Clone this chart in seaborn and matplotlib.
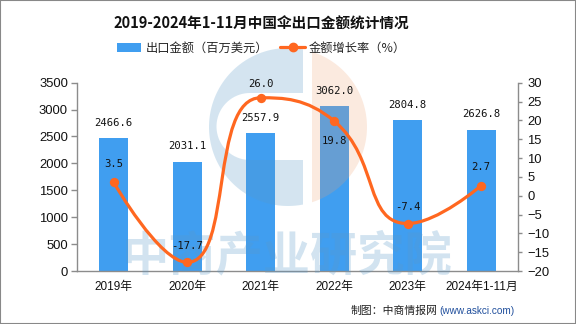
import numpy as np
import pandas as pd
import matplotlib
matplotlib.use("Agg")
import matplotlib.pyplot as plt
import seaborn as sns
from matplotlib.path import Path
from matplotlib.patches import PathPatch, Rectangle, Patch
from matplotlib.lines import Line2D

# ---------------- data ----------------
categories = ["2019年", "2020年", "2021年", "2022年", "2023年", "2024年1-11月"]
export_value = [2466.6, 2031.1, 2557.9, 3062.0, 2804.8, 2626.8]
growth_rate = [3.5, -17.7, 26.0, 19.8, -7.4, 2.7]
left_ticks = [0, 500, 1000, 1500, 2000, 2500, 3000, 3500]
right_ticks = [-20, -15, -10, -5, 0, 5, 10, 15, 20, 25, 30]
title = "2019-2024年1-11月中国伞出口金额统计情况"
legend_labels = ["出口金额（百万美元）", "金额增长率（%）"]
source_main = "制图：中商情报网"
source_url = "(www.askci.com)"
watermark = "中商产业研究院"

# ---------------- style ----------------
BLUE = "#409ef0"
ORANGE = "#ff6720"
GRAY = "#8c8c8c"
rate_label_offsets = [13, 12, 10, -14, 12, 13]  # points, vertical offset of rate labels

sns.set_theme(style="white")
plt.rcParams["font.family"] = ["Liberation Sans", "Noto Sans CJK SC", "DejaVu Sans"]
plt.rcParams["axes.unicode_minus"] = True

W, H = 576, 324
fig = plt.figure(figsize=(W / 100, H / 100), dpi=100)
fig.patch.set_facecolor("white")

x0, x1, ytop, ybot = 77, 518, 82.7, 271
ax = fig.add_axes([x0 / W, 1 - ybot / H, (x1 - x0) / W, (ybot - ytop) / H])

df = pd.DataFrame({"cat": categories, "val": export_value})
sns.barplot(data=df, x="cat", y="val", ax=ax, color=BLUE, saturation=1,
            width=0.4, linewidth=0, zorder=2)
ax.set_xlim(-0.5, len(categories) - 0.5)
ax.set_ylim(0, 3500)
ax.set_yticks(left_ticks)
ax.set_xlabel("")
ax.set_ylabel("")
ax.set_xticks(range(len(categories)))
ax.set_xticklabels(categories, fontsize=8.5, color="#111111")
ax.set_xticks(np.arange(-0.5, len(categories)), minor=True)
ax.tick_params(axis="x", which="major", length=0, pad=7)
ax.tick_params(axis="x", which="minor", length=4, width=1, color=GRAY, direction="out")
ax.tick_params(axis="y", length=4.3, width=1, color=GRAY, direction="out",
               pad=2.2, labelsize=9.4, labelcolor="#111111", left=True)
for s in ["top", "right"]:
    ax.spines[s].set_visible(False)
for s in ["left", "bottom"]:
    ax.spines[s].set_color(GRAY)
    ax.spines[s].set_linewidth(1)

for i, v in enumerate(export_value):
    ax.annotate(f"{v:.1f}", (i, v), xytext=(0, 11), textcoords="offset points",
                ha="center", va="center", fontsize=7.6, family="DejaVu Sans Mono",
                color="#111111", zorder=6)

ax2 = ax.twinx()
ax2.set_ylim(-20, 30)
ax2.set_yticks(right_ticks)
ax2.tick_params(axis="y", length=3, width=1, color=GRAY, direction="out",
                pad=3.6, labelsize=9.4, labelcolor="#111111", right=True)
for s in ["top", "left", "bottom"]:
    ax2.spines[s].set_visible(False)
ax2.spines["right"].set_color(GRAY)
ax2.spines["right"].set_linewidth(1)
ax2.grid(False)
ax.grid(False)

# smooth line (echarts-like monotone-constrained bezier), computed in display space
xs = np.arange(len(growth_rate), dtype=float)
pts = ax2.transData.transform(np.column_stack([xs, growth_rate]))
n = len(pts)
cin = [p.copy() for p in pts]
cout = [p.copy() for p in pts]
smooth = 0.5
for i in range(1, n - 1):
    p, pv, nx = pts[i], pts[i - 1], pts[i + 1]
    v = nx - pv
    l0 = np.hypot(*(p - pv))
    l1 = np.hypot(*(nx - p))
    r = l1 / (l0 + l1)
    co = p + v * smooth * r
    co = np.clip(co, np.minimum(p, nx), np.maximum(p, nx))
    vv = co - p
    ci = p - vv * l0 / l1
    ci = np.clip(ci, np.minimum(pv, p), np.maximum(pv, p))
    vv = p - ci
    co = p + vv * l1 / l0
    cin[i], cout[i] = ci, co
verts = [pts[0]]
codes = [Path.MOVETO]
for i in range(n - 1):
    verts += [cout[i], cin[i + 1], pts[i + 1]]
    codes += [Path.CURVE4] * 3
verts = ax2.transData.inverted().transform(np.array(verts))
ax2.add_patch(PathPatch(Path(verts, codes), fill=False, edgecolor=ORANGE,
                        linewidth=2.3, capstyle="round", joinstyle="round", zorder=3))
sns.scatterplot(x=categories, y=growth_rate, ax=ax2, color=ORANGE, s=45,
                edgecolor=ORANGE, linewidth=0, zorder=4, legend=False)
for i, v in enumerate(growth_rate):
    ax2.annotate(f"{v:.1f}", (i, v), xytext=(0, rate_label_offsets[i]),
                 textcoords="offset points", ha="center", va="center",
                 fontsize=7.6, family="DejaVu Sans Mono", color="#111111", zorder=6)
ax2.set_ylabel("")

# ---------------- watermark ----------------
def fpt(x, y):
    return (x / W, 1 - y / H)

cx, cy, R = 288, 127, 79
a0 = np.degrees(np.arccos((303 - cx) / R))
th = np.radians(np.linspace(a0, 360 - a0, 80))
outer = [fpt(cx + R * np.cos(t), cy - R * np.sin(t)) for t in th]
hc = (250, 126.5)
hr = 33.5
th2 = np.radians(np.linspace(270, 90, 40))
hole = [fpt(hc[0] + hr * np.cos(t), hc[1] - hr * np.sin(t)) for t in th2]
blue_poly = outer + [fpt(303, 160)] + hole + [fpt(303, 93)]
blue_codes = [Path.MOVETO] + [Path.LINETO] * (len(blue_poly) - 1)
blue_poly.append(blue_poly[0])
blue_codes.append(Path.CLOSEPOLY)
ax.add_patch(PathPatch(Path(blue_poly, blue_codes), transform=fig.transFigure,
                       facecolor="#5a9ac8", edgecolor="none", alpha=0.26,
                       clip_on=False, zorder=3))
a1 = np.degrees(np.arccos((312 - cx) / R))
th3 = np.radians(np.linspace(-a1, a1, 60))
org = [fpt(cx + R * np.cos(t), cy - R * np.sin(t)) for t in th3]
org_codes = [Path.MOVETO] + [Path.LINETO] * (len(org) - 1) + [Path.CLOSEPOLY]
org.append(org[0])
ax.add_patch(PathPatch(Path(org, org_codes), transform=fig.transFigure,
                       facecolor="#f0a070", edgecolor="none", alpha=0.22,
                       clip_on=False, zorder=3))
ax.text(0.499, 0.21, watermark, transform=fig.transFigure, ha="center", va="center",
        fontsize=34, fontweight="bold", family=["Noto Sans CJK SC"],
        color="#5a9ac8", alpha=0.27, zorder=3, clip_on=False)

# ---------------- title, legend, source ----------------
fig.text(0.453, 0.926, title, ha="center", va="center", fontsize=10.5,
         fontweight="bold", family=["Noto Sans CJK SC", "DejaVu Sans"], color="#111111")
handles = [Patch(facecolor=BLUE, edgecolor="none"),
           Line2D([], [], color=ORANGE, lw=2.3, marker="o", markersize=6)]
fig.legend(handles, legend_labels, loc="center", bbox_to_anchor=(0.454, 0.851),
           ncol=2, frameon=False, handlelength=2.0, handleheight=0.7,
           handletextpad=0.35, columnspacing=1.0,
           prop={"family": ["Noto Sans CJK SC", "DejaVu Sans"], "size": 8.8})
fig.text(438 / W, 0.041, source_main, ha="right", va="center", fontsize=7.8,
         family=["Noto Sans CJK SC", "DejaVu Sans"], color="#222222")
fig.text(439 / W, 0.041, source_url, ha="left", va="center", fontsize=7.2,
         family=["Liberation Sans"], color="#1f4e9c")

fig.add_artist(Rectangle((0, 0), 1, 1, transform=fig.transFigure, fill=False,
                         edgecolor="#888888", linewidth=1.5, zorder=10))

fig.savefig("out.png", dpi=100)
